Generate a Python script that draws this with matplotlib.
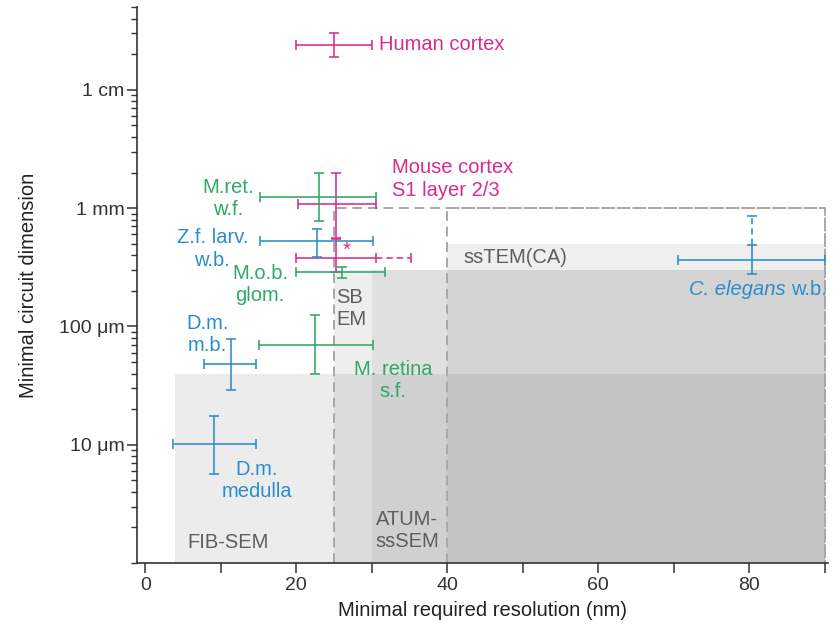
import numpy as np
import matplotlib
matplotlib.use('Agg')
from matplotlib import pyplot as plt
from matplotlib.patches import Rectangle
from matplotlib.ticker import FixedLocator, NullFormatter

plt.rcParams['font.family'] = ['Liberation Sans', 'DejaVu Sans']

MAGENTA = '#dc2a8c'
GREEN = '#2fa868'
BLUE = '#2b8dcb'
TECH_GRAY = '#5e5e5e'
FS = 14.5

# EM techniques: x range (nm), y range (mm)
tech_names = ['FIB-SEM', 'SBEM', 'ATUM-ssSEM', 'ssTEM(CA)']
tech_x0 = [4, 25, 30, 40]
tech_y1 = [0.04, 0.3, 0.3, 0.5]
tech_alpha = [0.085, 0.08, 0.065, 0.07]
dash_x0 = [25, 40]
dash_top = 1.0
x_right = 90
y_bottom = 1e-3

# circuits: resolution (nm) and dimension (mm) with error ranges
circ_x = [25, 25.2, 25.2, 23, 22.8, 26, 11.3, 22.5, 9.1, 80.4]
circ_xlo = [20, 20.2, 20, 15.2, 15.2, 20, 7.8, 15, 3.7, 70.6]
circ_xhi = [30, 30.5, 30.5, 30.5, 30.2, 31.8, 14.7, 30.2, 14.7, 90]
circ_y = [24, 1.08, 0.377, 1.24, 0.525, 0.287, 0.048, 0.07, 0.0102, 0.363]
circ_ylo = [19, 0.555, 0.29, 0.78, 0.39, 0.255, 0.029, 0.04, 0.0057, 0.276]
circ_yhi = [30, 2.0, 0.55, 2.0, 0.665, 0.32, 0.079, 0.124, 0.0176, 0.486]
circ_col = [MAGENTA, MAGENTA, MAGENTA, GREEN, BLUE, GREEN, BLUE, GREEN, BLUE, BLUE]

# dashed extensions (mouse cortex in x, C. elegans in y)
ext_x = [[30.5, 35.2], [80.4, 80.4]]
ext_y = [[0.377, 0.377], [0.486, 0.855]]
ext_col = [MAGENTA, BLUE]

labels = ['Human cortex', 'Mouse cortex\nS1 layer 2/3', 'M.ret.\nw.f.', 'Z.f. larv.\nw.b.',
          'M.o.b.\nglom.', 'D.m.\nm.b.', 'M. retina\ns.f.', 'D.m.\nmedulla',
          'C. elegans', 'w.b.', '*']
label_x = [31, 32.7, 11, 8.9, 15.2, 8.2, 32.8, 14.8, 84.8, 85.5, 26.6]
label_y = [24, 1.76, 1.2, 0.45, 0.227, 0.0853, 0.0347, 0.005, 0.206, 0.206, 0.44]
label_ha = ['left', 'left', 'center', 'center', 'center', 'center', 'center', 'center',
            'right', 'left', 'center']
label_style = ['normal'] * 8 + ['italic', 'normal', 'normal']
label_col = [MAGENTA, MAGENTA, GREEN, BLUE, GREEN, BLUE, GREEN, BLUE, BLUE, BLUE, MAGENTA]

tech_label = ['FIB-SEM', 'SB\nEM', 'ATUM-\nssSEM', 'ssTEM(CA)']
tech_label_x = [5.6, 25.3, 30.5, 42.1]
tech_label_y = [0.0015, 0.142, 0.00188, 0.384]

y_ticks = [0.01, 0.1, 1, 10]
y_ticklabels = ['10 μm', '100 μm', '1 mm', '1 cm']

fig = plt.figure(figsize=(8.35, 6.26), dpi=100)
ax = fig.add_axes([0.164, 0.1006, 0.8275, 0.888])
ax.set_yscale('log')
ax.set_xlim(-1.1, 90.4)
ax.set_ylim(1e-3, 50)

for x0, y1, a in zip(tech_x0, tech_y1, tech_alpha):
    ax.add_patch(Rectangle((x0, y_bottom), x_right - x0, y1 - y_bottom,
                           facecolor='#2a2a2a', alpha=a, edgecolor='none', zorder=1))

for x0 in dash_x0:
    ax.plot([x0, x0, x_right, x_right], [y_bottom, dash_top, dash_top, y_bottom],
            color='#a8a8a8', lw=1.4, ls=(0, (5, 3)), zorder=2, clip_on=False)

for i in range(len(circ_x)):
    xerr = [[circ_x[i] - circ_xlo[i]], [circ_xhi[i] - circ_x[i]]]
    yerr = [[circ_y[i] - circ_ylo[i]], [circ_yhi[i] - circ_y[i]]]
    ax.errorbar([circ_x[i]], [circ_y[i]], xerr=xerr, yerr=yerr, fmt='none',
                ecolor=circ_col[i], elinewidth=1.15, capsize=3.6, capthick=1.15,
                zorder=4, clip_on=False)

for ex, ey, c in zip(ext_x, ext_y, ext_col):
    ax.plot(ex, ey, color=c, lw=1.15, ls=(0, (4, 2.5)), zorder=4)
    if ex[0] == ex[1]:
        ax.plot([ex[1]], [ey[1]], marker='_', ms=7.2, mew=1.15, color=c, zorder=4)
    else:
        ax.plot([ex[1]], [ey[1]], marker='|', ms=7.2, mew=1.15, color=c, zorder=4)

for t, x, y, ha, st, c in zip(labels, label_x, label_y, label_ha, label_style, label_col):
    ax.text(x, y, t, ha=ha, va='center', color=c, fontsize=FS, fontstyle=st,
            linespacing=1.22, zorder=5)

for t, x, y in zip(tech_label, tech_label_x, tech_label_y):
    ax.text(x, y, t, ha='left', va='center', color=TECH_GRAY, fontsize=FS,
            linespacing=1.22, zorder=5)

ax.yaxis.set_major_locator(FixedLocator(y_ticks))
ax.set_yticklabels(y_ticklabels)
minor = [m * 10.0 ** e for e in range(-3, 2) for m in range(1, 10)]
ax.yaxis.set_minor_locator(FixedLocator(minor))
ax.yaxis.set_minor_formatter(NullFormatter())
ax.set_xticks([0, 20, 40, 60, 80])
ax.set_xticks([10, 30, 50, 70, 90], minor=True)

for s in ['top', 'right']:
    ax.spines[s].set_visible(False)
for s in ['left', 'bottom']:
    ax.spines[s].set_linewidth(1.2)
    ax.spines[s].set_color('#333333')
    ax.spines[s].set_zorder(6)
ax.tick_params(axis='both', which='major', direction='out', length=7, width=1.1,
               color='#333333', labelsize=14, labelcolor='#333333')
ax.tick_params(axis='y', which='major', pad=2)
ax.tick_params(axis='x', which='major', pad=3)
ax.tick_params(axis='y', which='minor', direction='out', length=4, width=1.0, color='#333333')
ax.tick_params(axis='x', which='minor', direction='out', length=7, width=1.1, color='#333333')

ax.set_xlabel('Minimal required resolution (nm)', fontsize=FS, color='#222222', labelpad=5)
ax.set_ylabel('Minimal circuit dimension', fontsize=FS, color='#222222', labelpad=15)

fig.savefig('out.png', dpi=100)
